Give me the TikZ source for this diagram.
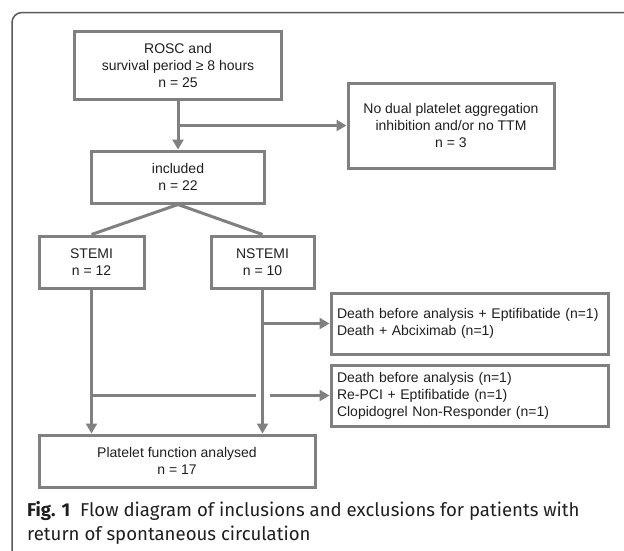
\documentclass[tikz,border=0pt]{standalone}
\usepackage{fontspec}
\setmainfont{Liberation Sans}
\newfontfamily\capfont{Fira Sans}
\usetikzlibrary{arrows.meta,calc,positioning}
\definecolor{flowgray}{HTML}{808080}
\definecolor{framegray}{HTML}{595959}
\definecolor{txtgray}{HTML}{1F1F1F}

\begin{document}
\begin{tikzpicture}[x=1pt,y=-1pt,>={Triangle[length=10pt,width=11pt]},
    box/.style={draw=flowgray,line width=3pt,align=center,text=txtgray,
      font=\fontsize{14}{17}\selectfont,inner sep=0pt},
    lbox/.style={box,align=left,text width=265pt,inner xsep=6pt,minimum height=61pt},
    flowline/.style={flowgray,line width=3pt},
    flow/.style={flowline,->},
    caption/.style={anchor=base west,inner sep=0pt,text=txtgray,font=\capfont\fontsize{18.6}{22}\selectfont}]
  \useasboundingbox (0,0) rectangle (624,550);
  \draw[framegray,line width=1.5pt,rounded corners=10pt] (12,551) -- (12,12.5) -- (625,12.5);

  \node[box,minimum width=207pt,minimum height=68pt] (rosc) at (178,65) {ROSC and\\survival period ≥ 8 hours\\n = 25};
  \node[box,minimum width=206pt,minimum height=85pt] (nodual) at (451,125.5) {No dual platelet aggregation\\inhibition and/or no TTM\\n = 3};
  \node[box,minimum width=173pt,minimum height=52pt] (incl) at (178,177) {included\\n = 22};
  \node[box,minimum width=105pt,minimum height=52pt] (stemi) at (91.5,262) {STEMI\\n = 12};
  \node[box,minimum width=103pt,minimum height=52pt] (nstemi) at (262.5,262) {NSTEMI\\n = 10};
  \node[lbox] (excl1) at (469.5,323.5) {Death before analysis + Eptifibatide (n=1)\\Death + Abciximab (n=1)};
  \node[lbox] (excl2) at (469.5,395.5) {Death before analysis (n=1)\\Re-PCI + Eptifibatide (n=1)\\Clopidogrel Non-Responder (n=1)};
  \node[box,minimum width=276pt,minimum height=52pt] (pfa) at (177,461) {Platelet function analysed\\n = 17};

  \coordinate (br1) at (rosc.south |- nodual.west);
  \coordinate (gapl) at ($(nstemi.south |- excl2.west)+(-7,0)$);
  \coordinate (gapr) at ($(nstemi.south |- excl2.west)+(7,0)$);
  \draw[flow] (rosc) -- (incl);
  \draw[flow] (br1) -- (nodual);
  \draw[flowline] (incl.south) -- (stemi.north);
  \draw[flowline] (incl.south) -- (nstemi.north);
  \draw[flow] (stemi) -- (stemi.south |- pfa.north);
  \draw[flow] (nstemi) -- (nstemi.south |- pfa.north);
  \draw[flow] (nstemi.south |- excl1.west) -- (excl1);
  \draw[flowline] (stemi.south |- excl2.west) -- (gapl);
  \draw[flow] (gapr) -- (excl2);

  \node[caption] (cap1) at (27,516) {\textbf{Fig. 1}\hspace{5pt} Flow diagram of inclusions and exclusions for patients with};
  \node[caption] (cap2) at (27,540) {return of spontaneous circulation};
\end{tikzpicture}
\end{document}
